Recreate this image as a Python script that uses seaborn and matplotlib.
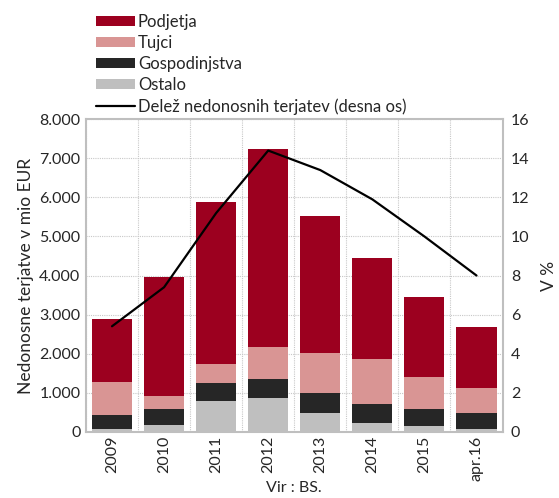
import numpy as np
import pandas as pd
import seaborn as sns
import matplotlib.pyplot as plt
from matplotlib.patches import Patch
from matplotlib.lines import Line2D
from matplotlib.ticker import FuncFormatter

# data (mio EUR)
years = ["2009", "2010", "2011", "2012", "2013", "2014", "2015", "apr.16"]
ostalo = [60, 170, 790, 860, 490, 220, 145, 80]
gospodinjstva = [360, 400, 450, 490, 490, 490, 435, 390]
tujci = [850, 340, 490, 820, 1030, 1140, 810, 640]
podjetja = [1610, 3040, 4150, 5080, 3510, 2590, 2050, 1580]
delez = [5.4, 7.4, 11.2, 14.4, 13.4, 11.9, 10.0, 8.0]  # desna os, v %

labels = ["Podjetja", "Tujci", "Gospodinjstva", "Ostalo"]
colors = ["#9c001f", "#d99594", "#262626", "#bfbfbf"]

sns.set_style("white")
plt.rcParams["font.family"] = ["Lato", "DejaVu Sans"]
plt.rcParams["font.size"] = 11

df = pd.DataFrame({"leto": years, "Ostalo": ostalo, "Gospodinjstva": gospodinjstva,
                   "Tujci": tujci, "Podjetja": podjetja})
# cumulative tops, stacked from bottom
stack_order = ["Ostalo", "Gospodinjstva", "Tujci", "Podjetja"]
cum = df[stack_order].cumsum(axis=1)

fig = plt.figure(figsize=(5.59, 4.98), dpi=100)
ax = fig.add_axes([0.1538, 0.1331, 0.7452, 0.6273])

# draw tallest layer first, smaller ones on top
for name in reversed(stack_order):
    col = colors[labels.index(name)]
    sns.barplot(x=df["leto"], y=cum[name], color=col, width=0.77,
                saturation=1, ax=ax, linewidth=0)

ax.set_xlim(-0.5, 7.5)
ax.set_ylim(0, 8000)
ax.set_yticks(np.arange(0, 8001, 1000))
ax.yaxis.set_major_formatter(FuncFormatter(lambda v, p: f"{int(v):,}".replace(",", ".")))
ax.set_xticks(np.arange(len(years)))
ax.set_xticklabels(years, rotation=90)
ax.set_xticks(np.arange(len(years)) - 0.5, minor=True)
ax.grid(False)
ax.grid(True, axis="x", which="minor", color="#c8c8c8", linestyle=(0, (1, 1)), linewidth=0.8)
ax.grid(True, axis="y", which="major", color="#c8c8c8", linestyle=(0, (1, 1)), linewidth=0.8)
ax.set_axisbelow(True)
ax.tick_params(axis="y", length=0, labelsize=11.5, pad=4)
ax.tick_params(axis="x", length=0, labelsize=11.5, pad=3)
ax.set_xlabel("Vir : BS.", fontsize=11.5, labelpad=0)
ax.set_ylabel("Nedonosne terjatve v mio EUR", fontsize=12.5, labelpad=4)
for s in ax.spines.values():
    s.set_color("#bfbfbf")
    s.set_linewidth(1.5)

ax2 = ax.twinx()
sns.lineplot(x=np.arange(len(years)), y=delez, color="black", linewidth=1.6, ax=ax2)
ax2.set_ylim(0, 16)
ax2.set_yticks(np.arange(0, 17, 2))
ax2.tick_params(length=0, labelsize=11.5, pad=6)
ax2.set_ylabel("V %", fontsize=12.5, labelpad=8)
for s in ax2.spines.values():
    s.set_visible(False)

handles = [Patch(facecolor=c, edgecolor="none") for c in colors]
handles.append(Line2D([], [], color="black", linewidth=1.6))
fig.legend(handles, labels + ["Delež nedonosnih terjatev (desna os)"],
           loc="upper left", bbox_to_anchor=(0.172, 0.972), frameon=False,
           fontsize=12, handlelength=2.35, handleheight=0.6, handletextpad=0.15,
           labelspacing=0.3, borderpad=0, borderaxespad=0)

fig.savefig("out.png", dpi=100)
